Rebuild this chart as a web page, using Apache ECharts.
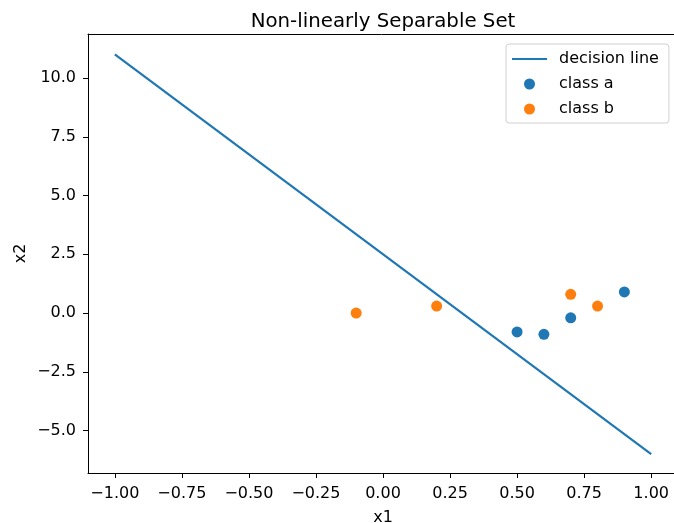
<!DOCTYPE html>
<html>
<head>
<meta charset="utf-8">
<script src="https://cdn.jsdelivr.net/npm/echarts@6/dist/echarts.min.js"></script>
<style>
  html, body { margin: 0; padding: 0; background: #fff; }
  #main { width: 674px; height: 523px; }
</style>
</head>
<body>
<div id="main"></div>
<script>
// decision line end points
var lineX = [-1, 1];
var lineY = [11, -6];
// class a (blue)
var classAX = [0.5, 0.6, 0.7, 0.9];
var classAY = [-0.8, -0.9, -0.2, 0.9];
// class b (orange)
var classBX = [-0.1, 0.2, 0.7, 0.8];
var classBY = [0.0, 0.3, 0.8, 0.3];
// tick values
var xTicks = [-1, -0.75, -0.5, -0.25, 0, 0.25, 0.5, 0.75, 1];
var yTicks = [-5, -2.5, 0, 2.5, 5, 7.5, 10];

var FONT = 'DejaVu Sans';

function zipXY(xs, ys) {
  return xs.map(function (x, i) { return [x, ys[i]]; });
}
function minus(s) { return s.replace('-', '\u2212'); }

var chart = echarts.init(document.getElementById('main'));
chart.setOption({
  animation: false,
  backgroundColor: '#fff',
  title: {
    text: 'Non-linearly Separable Set',
    left: 383,
    top: 12,
    padding: 0,
    textAlign: 'center',
    textStyle: { fontFamily: FONT, fontSize: 19.8, fontWeight: 'normal', color: '#000' }
  },
  grid: {
    left: 88, right: -4, top: 34, bottom: 50,
    outerBoundsMode: 'none',
    containLabel: false,
    show: false
  },
  legend: {
    orient: 'vertical',
    left: 506, top: 44,
    padding: [6, 10, 5, 6],
    itemWidth: 35,
    itemHeight: 11,
    itemGap: 7,
    symbolKeepAspect: true,
    borderColor: '#d0d0d0',
    borderWidth: 1,
    borderRadius: 3,
    backgroundColor: 'rgba(255,255,255,0.8)',
    textStyle: { fontFamily: FONT, fontSize: 16, color: '#000', lineHeight: 18, padding: [0, 0, 0, 7] },
    data: [
      { name: 'decision line', icon: 'path://M0,0L35,0L35,2.2L0,2.2Z', itemStyle: { color: '#1f77b4' } },
      { name: 'class a', icon: 'circle' },
      { name: 'class b', icon: 'circle' }
    ]
  },
  xAxis: [
    {
      type: 'value',
      min: -1.1, max: 1.1,
      name: 'x1', nameLocation: 'middle', nameGap: 37,
      nameMoveOverlap: false,
      nameTextStyle: { fontFamily: FONT, fontSize: 16, color: '#000' },
      axisLine: { onZero: false, lineStyle: { color: '#000', width: 1 } },
      axisTick: { show: true, length: 5, customValues: xTicks, lineStyle: { color: '#000' } },
      axisLabel: {
        customValues: xTicks, margin: 13,
        fontFamily: FONT, fontSize: 16, color: '#000',
        formatter: function (v) { return minus(v.toFixed(2)); }
      },
      splitLine: { show: false }
    },
    {
      // top spine only
      type: 'value',
      position: 'top',
      min: -1.1, max: 1.1,
      axisLine: { show: true, onZero: false, lineStyle: { color: '#000', width: 1 } },
      axisTick: { show: false },
      axisLabel: { show: false },
      splitLine: { show: false }
    }
  ],
  yAxis: {
    type: 'value',
    min: -6.8, max: 11.87,
    name: 'x2', nameLocation: 'middle', nameGap: 59,
    nameMoveOverlap: false,
    nameTextStyle: { fontFamily: FONT, fontSize: 16, color: '#000' },
    axisLine: { show: true, onZero: false, lineStyle: { color: '#000', width: 1 } },
    axisTick: { show: true, length: 5, customValues: yTicks, lineStyle: { color: '#000' } },
    axisLabel: {
      customValues: yTicks, margin: 12,
      fontFamily: FONT, fontSize: 16, color: '#000',
      formatter: function (v) { return minus(v.toFixed(1)); }
    },
    splitLine: { show: false }
  },
  series: [
    {
      name: 'decision line',
      type: 'line',
      data: zipXY(lineX, lineY),
      symbol: 'none',
      lineStyle: { color: '#1f77b4', width: 2.2 },
      itemStyle: { color: '#1f77b4' }
    },
    {
      name: 'class a',
      type: 'scatter',
      data: zipXY(classAX, classAY),
      symbolSize: 11,
      itemStyle: { color: '#1f77b4', opacity: 1 }
    },
    {
      name: 'class b',
      type: 'scatter',
      data: zipXY(classBX, classBY),
      symbolSize: 11,
      itemStyle: { color: '#ff7f0e', opacity: 1 }
    }
  ]
});
</script>
</body>
</html>
